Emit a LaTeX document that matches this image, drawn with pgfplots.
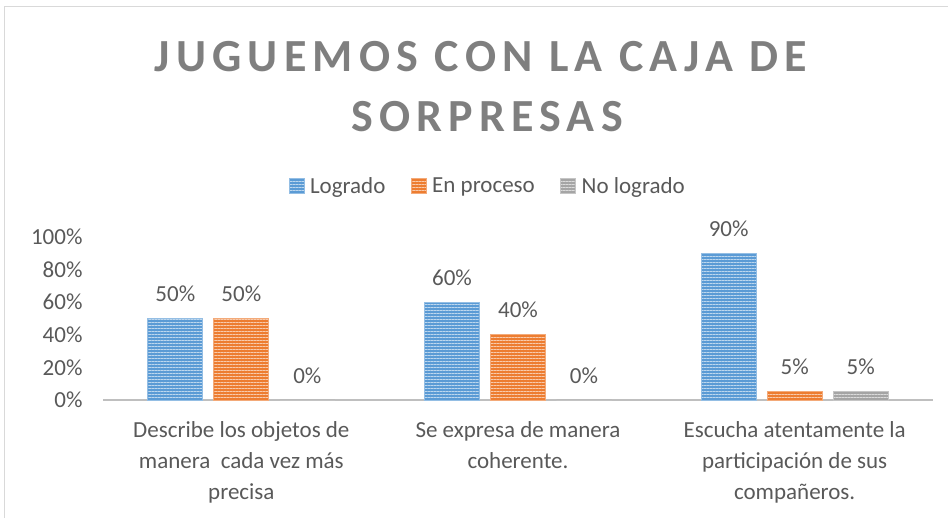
\documentclass[border=0pt]{standalone}
\usepackage{pgfplots}
\pgfplotsset{compat=1.18}
\usepackage{fontspec}
\setmainfont{Carlito}
\usetikzlibrary{patterns.meta}

\definecolor{cblue}{HTML}{5B9BD5}
\definecolor{corange}{HTML}{ED7D31}
\definecolor{cgray}{HTML}{A5A5A5}
\definecolor{txt}{HTML}{595959}
\definecolor{ttl}{HTML}{7F7F7F}
\definecolor{axl}{HTML}{BFBFBF}
\definecolor{brd}{HTML}{D9D9D9}

\newcommand\lbl{\fontsize{23}{31}\selectfont}

\pgfplotsset{
  striped/.style={
    fill=#1, draw=#1!65!white, line width=0.8pt,
    postaction={pattern={Lines[angle=0,distance=3pt,line width=1pt]},
                pattern color=#1!40!white}
  },
}

\begin{document}
\begin{tikzpicture}
\useasboundingbox (0pt,0pt) rectangle (948pt,518pt);
\draw[brd, line width=1.5pt] (4.7pt,0pt) -- (4.7pt,511.5pt) -- (948pt,511.5pt);

\node[anchor=base, text=ttl, font=\fontsize{46}{60}\selectfont\bfseries\addfontfeatures{LetterSpace=13.5}]
  at (481pt,446pt) {JUGUEMOS CON LA CAJA DE};
\node[anchor=base, text=ttl, font=\fontsize{46}{60}\selectfont\bfseries\addfontfeatures{LetterSpace=13.5}]
  at (487pt,386pt) {SORPRESAS};

\begin{axis}[
  at={(103pt,118pt)}, anchor=south west,
  scale only axis, width=830pt, height=163pt,
  xmin=-0.5, xmax=2.5, ymin=0, ymax=100,
  axis x line*=bottom, axis y line*=left,
  x axis line style={draw=axl, line width=1.5pt, -},
  y axis line style={draw=none},
  major tick length=0pt,
  ytick={0,20,40,60,80,100},
  yticklabels={0\%,20\%,40\%,60\%,80\%,100\%},
  yticklabel style={font=\lbl, text=txt, xshift=-17pt},
  xtick={0,1,2},
  xticklabels={
    {Describe los objetos de\\manera \ cada vez más\\precisa},
    {Se expresa de manera\\coherente.},
    {Escucha atentamente la\\participación de sus\\compañeros.}},
  xticklabel style={font=\lbl, text=txt, align=center, anchor=north, yshift=-18pt},
  ybar=11pt, bar width=55pt,
  nodes near coords={\pgfmathprintnumber[assume math mode=true]{\pgfplotspointmeta}\%},
  every node near coord/.append style={font=\lbl, text=txt, yshift=13pt},
  clip=false,
  legend columns=-1,
  legend image code/.code={\draw[#1,/tikz/.cd] (0pt,-7.5pt) rectangle (15pt,7.5pt);},
  legend style={at={(0.4657,1.313)}, anchor=center, draw=none, fill=none,
    font=\lbl, text=txt, inner sep=0pt,
    nodes={inner xsep=5.5pt, inner ysep=1pt},
    /tikz/every even column/.append style={column sep=20pt}},
]
\addplot[striped=cblue] coordinates {(0,50) (1,60) (2,90)};
\addlegendentry{Logrado}
\addplot[striped=corange] coordinates {(0,50) (1,40) (2,5)};
\addlegendentry{En proceso}
\addplot[striped=cgray] coordinates {(0,0) (1,0) (2,5)};
\addlegendentry{No logrado}
\end{axis}
\end{tikzpicture}
\end{document}
